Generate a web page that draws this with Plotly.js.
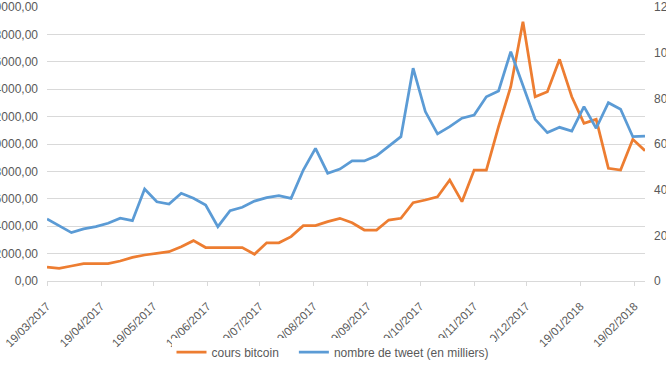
<!DOCTYPE html>
<html>
<head>
<meta charset="utf-8">
<script src="https://cdn.plot.ly/plotly-3.0.1.min.js"></script>
<style>html,body{margin:0;padding:0;background:#fff;}#chart{width:666px;height:375px;}</style>
</head>
<body>
<div id="chart"></div>
<script>
const dates = [
 "2017-03-19","2017-03-26","2017-04-02","2017-04-09","2017-04-16","2017-04-23","2017-04-30",
 "2017-05-07","2017-05-14","2017-05-21","2017-05-28","2017-06-04","2017-06-11","2017-06-18","2017-06-25",
 "2017-07-02","2017-07-09","2017-07-16","2017-07-23","2017-07-30","2017-08-06","2017-08-13","2017-08-20","2017-08-27",
 "2017-09-03","2017-09-10","2017-09-17","2017-09-24","2017-10-01","2017-10-08","2017-10-15","2017-10-22","2017-10-29",
 "2017-11-05","2017-11-12","2017-11-19","2017-11-26","2017-12-03","2017-12-10","2017-12-17","2017-12-24","2017-12-31",
 "2018-01-07","2018-01-14","2018-01-21","2018-01-28","2018-02-04","2018-02-11","2018-02-18","2018-02-25"
];
const coursBitcoin = [
 1020, 925, 1095, 1265, 1265, 1265, 1460, 1727, 1898, 2044,
 2141, 2506, 2944, 2440, 2440, 2440, 2440, 1950, 2790, 2790,
 3240, 4040, 4040, 4330, 4575, 4255, 3720, 3720, 4450, 4575,
 5715, 5910, 6150, 7370, 5790, 8100, 8100, 11260, 14180, 18930,
 13450, 13820, 16180, 13450, 11510, 11800, 8230, 8100, 10340, 9510
];
const nombreTweets = [
 27.2, 24.1, 21.2, 22.8, 23.8, 25.3, 27.5, 26.4, 40.3, 34.7,
 33.7, 38.4, 36.2, 33.3, 23.8, 30.8, 32.3, 35.0, 36.5, 37.4,
 36.2, 48.6, 58.1, 47.2, 49.0, 52.6, 52.6, 54.8, 58.8, 63.2,
 93.2, 74.2, 64.4, 67.6, 71.3, 72.7, 80.7, 83.2, 100.4, 85.8,
 70.8, 65.0, 67.3, 65.7, 76.4, 66.9, 78.1, 75.2, 63.2, 63.5
];
const tickDates = [
 "2017-03-19","2017-04-19","2017-05-19","2017-06-19","2017-07-19","2017-08-19",
 "2017-09-19","2017-10-19","2017-11-19","2017-12-19","2018-01-19","2018-02-19"
];
const seriesNames = ["cours bitcoin", "nombre de tweet (en milliers)"];

const txt = '#595959';
const grid = '#d9d9d9';
const fontFam = 'Liberation Sans, Arial, sans-serif';

const data = [
 {x: dates, y: coursBitcoin, name: seriesNames[0] + '\u00a0\u00a0\u00a0', type: 'scatter', mode: 'lines',
  line: {color: '#ED7D31', width: 2.75}, yaxis: 'y'},
 {x: dates, y: nombreTweets, name: seriesNames[1], type: 'scatter', mode: 'lines',
  line: {color: '#5B9BD5', width: 2.75}, yaxis: 'y2'}
];

const layout = {
 width: 666, height: 375,
 margin: {l: 47, r: 21, t: 7, b: 94, pad: 0},
 paper_bgcolor: '#fff', plot_bgcolor: '#fff',
 separators: ', ',
 font: {family: fontFam, size: 12, color: txt},
 showlegend: true,
 legend: {orientation: 'h', xref: 'container', yref: 'container', x: 0.5, xanchor: 'center',
  y: 0.061, yanchor: 'middle', itemwidth: 30, font: {size: 12, color: txt}, traceorder: 'normal'},
 xaxis: {type: 'date', range: [dates[0], dates[dates.length - 1]],
  tickvals: tickDates, tickformat: '%d/%m/%Y', tickangle: -45,
  showgrid: false, zeroline: false, showline: true, linecolor: grid, linewidth: 1,
  ticks: 'outside', ticklen: 4, tickcolor: grid, ticklabelstandoff: 9,
  tickfont: {size: 11.5, color: txt}},
 yaxis: {range: [0, 20000], dtick: 2000, tickformat: '.2f', showgrid: true, gridcolor: grid,
  gridwidth: 1, zeroline: false, showline: false, ticks: '', ticklabelstandoff: 8,
  tickfont: {size: 12, color: txt}},
 yaxis2: {range: [0, 120], dtick: 20, overlaying: 'y', side: 'right', showgrid: false,
  zeroline: false, showline: false, ticks: '', ticklabelstandoff: 8,
  tickfont: {size: 12, color: txt}}
};

Plotly.newPlot('chart', data, layout, {displayModeBar: false, staticPlot: true});
</script>
</body>
</html>
